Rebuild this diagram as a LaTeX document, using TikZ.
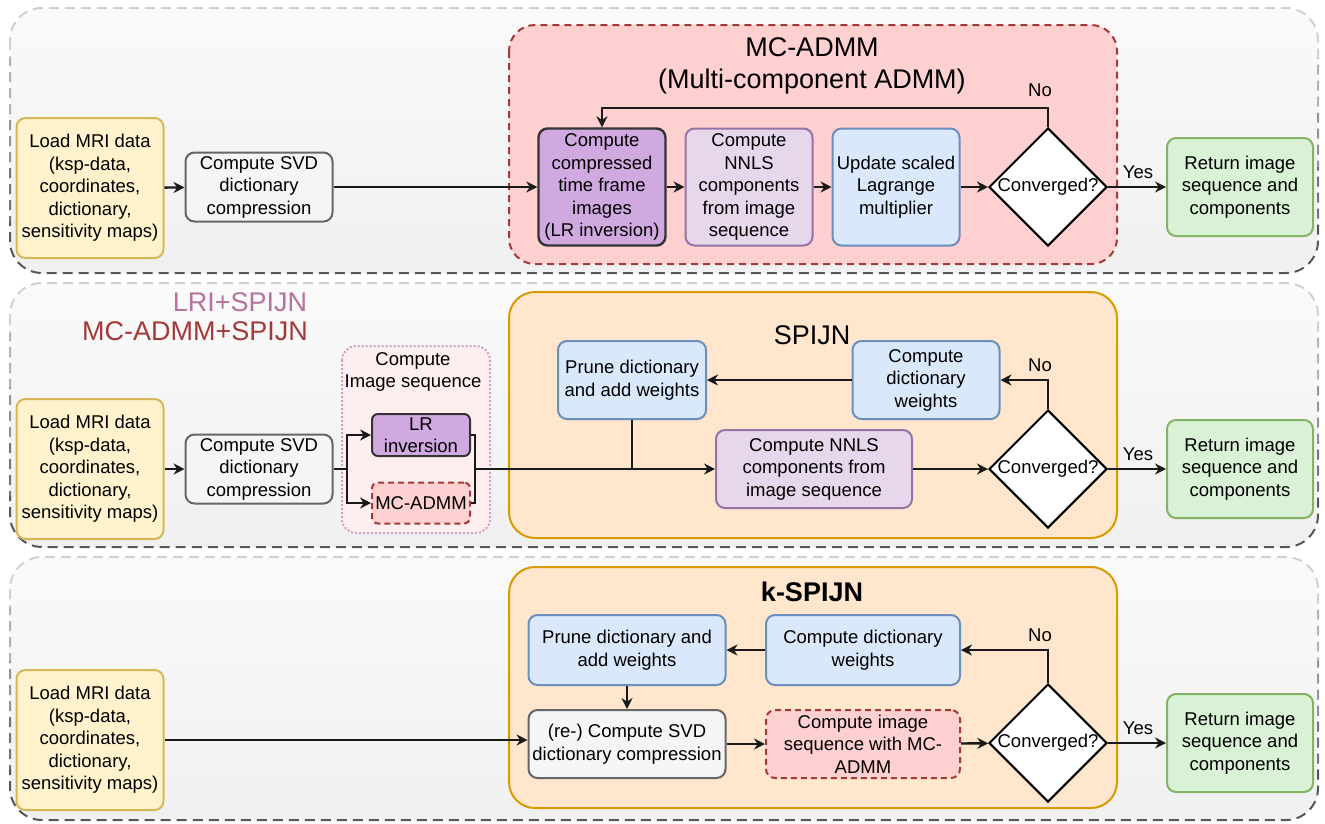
\documentclass[tikz,border=0pt]{standalone}
\usepackage{fontspec}
\setmainfont{Liberation Sans}
\usepackage{tikz}
\usetikzlibrary{arrows.meta, positioning, calc, shapes.geometric}

\definecolor{ylwfill}{HTML}{FFF2CC}\definecolor{ylwdraw}{HTML}{D6B656}
\definecolor{gryfill}{HTML}{F5F5F5}\definecolor{grydraw}{HTML}{666666}
\definecolor{pdkfill}{HTML}{D0A9E0}\definecolor{pdkdraw}{HTML}{333333}
\definecolor{pltfill}{HTML}{E6D7EC}\definecolor{pltdraw}{HTML}{9673A6}
\definecolor{blufill}{HTML}{DAE8FC}\definecolor{bludraw}{HTML}{6C8EBF}
\definecolor{grnfill}{HTML}{D9F2D5}\definecolor{grndraw}{HTML}{82B366}
\definecolor{redfill}{HTML}{FFD0D0}\definecolor{reddraw}{HTML}{A33A3A}
\definecolor{orgfill}{HTML}{FFE6CC}\definecolor{orgdraw}{HTML}{D79B00}
\definecolor{pnkfill}{HTML}{FFEEF0}\definecolor{pnkdraw}{HTML}{CFA0CC}
\definecolor{lritext}{HTML}{B5739D}

\newcommand\boxfont{\fontsize{18.5}{22.5}\selectfont}
\newcommand\titlefont{\fontsize{27}{32}\selectfont}

\tikzset{
  box/.style={rounded corners=9pt, line width=2pt, align=center, font=\boxfont, inner sep=1pt},
  loadbox/.style={box, fill=ylwfill, draw=ylwdraw, minimum width=147pt, minimum height=140pt},
  svdbox/.style={box, fill=gryfill, draw=grydraw},
  lrbox/.style={box, fill=pdkfill, draw=pdkdraw},
  nnlsbox/.style={box, fill=pltfill, draw=pltdraw},
  bluebox/.style={box, fill=blufill, draw=bludraw},
  retbox/.style={box, fill=grnfill, draw=grndraw, minimum width=146pt, minimum height=98pt},
  mcbox/.style={box, fill=redfill, draw=reddraw, dash pattern=on 6pt off 4pt},
  decision/.style={diamond, aspect=1, draw=black, fill=white, line width=2pt,
    minimum width=118pt, minimum height=118pt, inner sep=0pt, font=\boxfont},
  container/.style={rounded corners=26pt, line width=2pt},
  panelline/.style={rounded corners=32pt, line width=2pt, dash pattern=on 10pt off 6pt},
  conn/.style={line width=2.4pt, draw=black!90},
  arr/.style={conn, -{Stealth[length=11pt, width=11pt]}},
  lbl/.style={font=\boxfont, inner sep=0pt},
}

\begin{document}
\begin{tikzpicture}[x=1pt, y=-1pt]
\useasboundingbox (0,0) rectangle (1325,823);

% outer panels, border gets darker towards the bottom
\foreach \ya/\yb in {8/273, 283/547, 557/820}{
  \shade[rounded corners=32pt, top color=white!98!black, bottom color=white!94!black] (10,\ya) rectangle (1318,\yb);
  \foreach \k [evaluate=\k as \c using int(18+12*\k)] in {0,...,4}{
    \begin{scope}
      \clip (0,{\ya-4+\k*(\yb-\ya+8)/5}) rectangle (1325,{\ya-4+(\k+1)*(\yb-\ya+8)/5});
      \draw[panelline, draw=black!\c] (10,\ya) rectangle (1318,\yb);
    \end{scope}
  }
}

%% ---- panel 1: MC-ADMM ----
\draw[container, fill=redfill, draw=reddraw, dash pattern=on 7pt off 5pt] (509,25) rectangle (1117,264);
\node[font=\titlefont, align=center] (mctitle) at (812,66) {MC-ADMM\\(Multi-component ADMM)};

\node[loadbox] (load1) at (90,188) {Load MRI data\\(ksp-data,\\coordinates,\\dictionary,\\sensitivity maps)};
\node[svdbox, minimum width=147pt, minimum height=69pt] (svd1) at (259,187) {Compute SVD\\dictionary\\compression};
\node[lrbox, line width=2.4pt, minimum width=127pt, minimum height=117pt] (comp1) at (602,187) {Compute\\compressed\\time frame\\images\\(LR inversion)};
\node[nnlsbox, minimum width=127pt, minimum height=117pt] (nnls1) at (749,187) {Compute\\NNLS\\components\\from image\\sequence};
\node[bluebox, minimum width=127pt, minimum height=117pt] (upd1) at (896,187) {Update scaled\\Lagrange\\multiplier};
\node[decision] (conv1) at (1048,187) {Converged?};
\node[retbox] (ret1) at (1240,187) {Return image\\sequence and\\components};
\coordinate (loop1) at (602,108);

\draw[arr] (load1) -- (svd1);
\draw[arr] (svd1) -- (comp1);
\draw[arr] (comp1) -- (nnls1);
\draw[arr] (nnls1) -- (upd1);
\draw[arr] (upd1) -- (conv1);
\draw[arr] (conv1.north) |- (loop1) -- (comp1.north);
\draw[arr] (conv1.east) -- (ret1.west);
\node[lbl] (no1) at (1040,90) {No};
\node[lbl] (yes1) at (1138,172) {Yes};

%% ---- panel 2: LRI / MC-ADMM + SPIJN ----
\node[font=\fontsize{27}{30}\selectfont, text=lritext] (lrititle) at (240,302) {LRI+SPIJN};
\node[font=\fontsize{27}{30}\selectfont, text=reddraw] (mcsptitle) at (195,331) {MC-ADMM+SPIJN};

\draw[container, rounded corners=14pt, fill=pnkfill, draw=pnkdraw, line width=2pt, dotted] (342,346) rectangle (490,533);
\node[lbl, align=center] (imgtitle) at (413,372) {Compute\\Image sequence};
\draw[container, fill=orgfill, draw=orgdraw] (509,292) rectangle (1117,538);
\node[font=\titlefont] (sptitle) at (812,335) {SPIJN};

\node[loadbox] (load2) at (90,469) {Load MRI data\\(ksp-data,\\coordinates,\\dictionary,\\sensitivity maps)};
\node[svdbox, minimum width=147pt, minimum height=69pt] (svd2) at (259,469) {Compute SVD\\dictionary\\compression};
\node[lrbox, rounded corners=6pt, minimum width=98pt, minimum height=42pt] (lr2) at (421,435) {LR\\inversion};
\node[mcbox, rounded corners=6pt, minimum width=98pt, minimum height=41pt] (mc2) at (421,503) {MC-ADMM};
\node[bluebox, minimum width=148pt, minimum height=78pt] (prune2) at (632,380) {Prune dictionary\\and add weights};
\node[bluebox, minimum width=147pt, minimum height=78pt] (wts2) at (926,380) {Compute\\dictionary\\weights};
\node[nnlsbox, minimum width=196pt, minimum height=78pt] (nnls2) at (814,469) {Compute NNLS\\components from\\image sequence};
\node[decision] (conv2) at (1048,469) {Converged?};
\node[retbox] (ret2) at (1240,469) {Return image\\sequence and\\components};
\coordinate (split2) at (347,469);
\coordinate (join2) at (475,469);

\draw[arr] (load2) -- (svd2);
\draw[conn] (svd2.east) -- (split2);
\draw[arr] (split2) |- (lr2.west);
\draw[arr] (split2) |- (mc2.west);
\draw[conn] (lr2.east) -| (join2);
\draw[conn] (mc2.east) -| (join2);
\draw[arr] (join2) -- (nnls2.west);
\draw[conn] (prune2.south) -- (prune2.south |- nnls2.west);
\draw[arr] (nnls2) -- (conv2);
\draw[arr] (conv2.north) |- (wts2.east);
\draw[arr] (wts2) -- (prune2);
\draw[arr] (conv2.east) -- (ret2.west);
\node[lbl] (no2) at (1040,365) {No};
\node[lbl] (yes2) at (1138,454) {Yes};

%% ---- panel 3: k-SPIJN ----
\draw[container, fill=orgfill, draw=orgdraw] (509,567) rectangle (1117,808);
\node[font=\titlefont\bfseries] (ktitle) at (812,592) {k-SPIJN};

\node[loadbox] (load3) at (90,740) {Load MRI data\\(ksp-data,\\coordinates,\\dictionary,\\sensitivity maps)};
\node[bluebox, minimum width=197pt, minimum height=70pt] (prune3) at (627,650) {Prune dictionary and\\add weights};
\node[bluebox, minimum width=194pt, minimum height=70pt] (wts3) at (863,650) {Compute dictionary\\weights};
\node[svdbox, minimum width=197pt, minimum height=68pt] (svd3) at (627,744) {(re-) Compute SVD\\dictionary compression};
\node[mcbox, minimum width=194pt, minimum height=68pt] (seq3) at (863,744) {Compute image\\sequence with MC-\\ADMM};
\node[decision] (conv3) at (1048,743) {Converged?};
\node[retbox] (ret3) at (1240,743) {Return image\\sequence and\\components};

\draw[arr] (load3.east) -- (load3.east -| svd3.west);
\draw[arr] (prune3) -- (svd3);
\draw[arr] (svd3) -- (seq3);
\draw[arr] (seq3) -- (conv3);
\draw[arr] (conv3.north) |- (wts3.east);
\draw[arr] (wts3) -- (prune3);
\draw[arr] (conv3.east) -- (ret3.west);
\node[lbl] (no3) at (1040,635) {No};
\node[lbl] (yes3) at (1138,728) {Yes};
\end{tikzpicture}
\end{document}
